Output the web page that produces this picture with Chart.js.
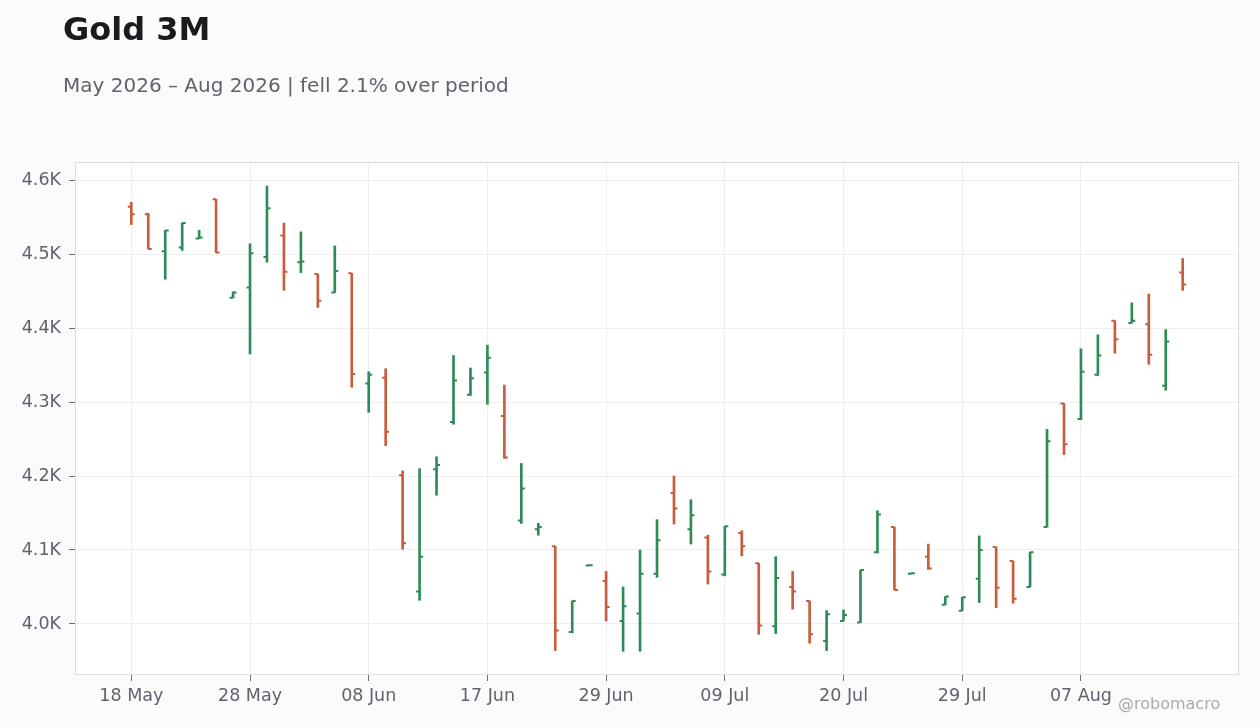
<!DOCTYPE html>
<html>
<head>
<meta charset="utf-8">
<script src="https://cdn.jsdelivr.net/npm/chart.js@4.4.1/dist/chart.umd.min.js"></script>
<style>
  html, body { margin: 0; padding: 0; background: #fbfbfb; }
  body { width: 1260px; height: 728px; position: relative; overflow: hidden; font-family: "DejaVu Sans", sans-serif; }
  #title { position: absolute; left: 63px; top: 13px; font-size: 32px; line-height: 1; font-weight: bold; color: #1b1b1f; white-space: nowrap; }
  #subtitle { position: absolute; left: 63px; top: 75px; font-size: 20px; line-height: 1; color: #5f6370; white-space: nowrap; }
  #mark { position: absolute; left: 1118px; top: 696px; font-size: 16px; line-height: 1; color: #ababab; white-space: nowrap; }
  #wrap { position: absolute; left: 0; top: 0; width: 1260px; height: 728px; }
</style>
</head>
<body>
<div id="wrap"><canvas id="c" width="1260" height="728"></canvas></div>
<div id="title">Gold 3M</div>
<div id="subtitle">May 2026 – Aug 2026 | fell 2.1% over period</div>
<div id="mark">@robomacro</div>
<script>
// Trading days (categories)
const dates = [
  '2026-05-18','2026-05-19','2026-05-20','2026-05-21','2026-05-22','2026-05-26','2026-05-27','2026-05-28','2026-05-29',
  '2026-06-01','2026-06-02','2026-06-03','2026-06-04','2026-06-05','2026-06-08','2026-06-09','2026-06-10','2026-06-11',
  '2026-06-12','2026-06-15','2026-06-16','2026-06-17','2026-06-18','2026-06-22','2026-06-23','2026-06-24','2026-06-25',
  '2026-06-26','2026-06-29','2026-06-30','2026-07-01','2026-07-02','2026-07-06','2026-07-07','2026-07-08','2026-07-09',
  '2026-07-10','2026-07-13','2026-07-14','2026-07-15','2026-07-16','2026-07-17','2026-07-20','2026-07-21','2026-07-22',
  '2026-07-23','2026-07-24','2026-07-27','2026-07-28','2026-07-29','2026-07-30','2026-07-31','2026-08-03','2026-08-04',
  '2026-08-05','2026-08-06','2026-08-07','2026-08-10','2026-08-11','2026-08-12','2026-08-13','2026-08-14','2026-08-17'
];
const openVals = [
  4564,4554,4504,4509,4521,4574,4441,4455,4496,4525,4489,4473,4448,4474,4325,4333,4201,4044,4209,4273,4310,4340,4281,
  4140,4128,4105,3989,4079,4058,4004,4014,4068,4177,4128,4117,4067,4123,4082,3997,4050,4031,3977,4004,4002,4097,4131,
  4068,4091,4026,4018,4061,4104,4085,4050,4131,4298,4277,4337,4410,4407,4405,4322,4475
];
const highVals = [
  4570,4555,4532,4542,4532,4574,4449,4514,4592,4542,4530,4473,4511,4474,4341,4345,4207,4210,4226,4363,4346,4377,4323,
  4217,4136,4105,4031,4080,4071,4050,4100,4141,4200,4168,4120,4132,4126,4082,4091,4071,4031,4018,4019,4073,4153,4131,
  4069,4108,4037,4036,4119,4104,4085,4097,4263,4298,4372,4391,4410,4434,4446,4398,4494
];
const lowVals = [
  4540,4507,4466,4505,4521,4502,4441,4365,4489,4451,4475,4428,4448,4320,4286,4241,4101,4032,4174,4270,4309,4297,4224,
  4136,4120,3964,3988,4079,4004,3963,3963,4063,4135,4108,4054,4065,4092,3986,3987,4020,3974,3964,4004,4002,4096,4046,
  4068,4074,4026,4018,4029,4022,4028,4050,4131,4229,4276,4336,4366,4407,4351,4316,4451
];
const closeVals = [
  4554,4507,4532,4542,4522.5,4502,4448,4501,4562,4476,4490,4437,4477,4338,4337,4260,4109,4091,4215,4329,4332,4360,4225,
  4183,4131,3991,4031,4079.5,4023,4024,4068,4113,4156,4147,4071,4132,4105,3998,4062,4044,3986,4013,4012,4073,4148,4046,
  4068.5,4075,4037,4036,4100,4049,4034,4097,4247,4243,4341,4363,4385,4410,4364,4382,4459
];
const tickIndex = [0, 7, 14, 21, 28, 35, 42, 49, 56];
const tickLabels = ['18 May','28 May','08 Jun','17 Jun','29 Jun','09 Jul','20 Jul','29 Jul','07 Aug'];
const yTicks = [4000, 4100, 4200, 4300, 4400, 4500, 4600];
const yMin = 3931, yMax = 4624.5;
const xMin = -3.32, xMax = 65.32;

const UP = '#2e8b57';
const DOWN = '#c85c3c';
const colors = openVals.map((o, i) => closeVals[i] >= o ? UP : DOWN);
const rangeData = dates.map((d, i) => ({ x: i, y: [lowVals[i], highVals[i]] }));

const plotBg = {
  id: 'plotBg',
  beforeDraw(chart) {
    const { ctx, chartArea: a } = chart;
    ctx.save();
    ctx.fillStyle = '#ffffff';
    ctx.fillRect(a.left, a.top, a.right - a.left, a.bottom - a.top);
    ctx.restore();
  },
  afterDatasetsDraw(chart) {
    const { ctx, chartArea: a } = chart;
    const xs = chart.scales.x, ys = chart.scales.y;
    ctx.save();
    ctx.lineWidth = 2;
    ctx.lineCap = 'butt';
    for (let i = 0; i < dates.length; i++) {
      const x = xs.getPixelForValue(i);
      const yo = ys.getPixelForValue(openVals[i]);
      const yc = ys.getPixelForValue(closeVals[i]);
      ctx.strokeStyle = colors[i];
      ctx.beginPath();
      ctx.moveTo(x - 3.5, yo); ctx.lineTo(x, yo);
      ctx.moveTo(x, yc); ctx.lineTo(x + 3.5, yc);
      ctx.stroke();
    }
    ctx.strokeStyle = '#dcdcdc';
    ctx.lineWidth = 1;
    ctx.strokeRect(a.left + 0.5, a.top + 0.5, a.right - a.left - 1, a.bottom - a.top - 1);
    ctx.restore();
  }
};

new Chart(document.getElementById('c'), {
  type: 'bar',
  data: {
    datasets: [{
      data: rangeData,
      backgroundColor: colors,
      borderWidth: 0,
      borderSkipped: false,
      barThickness: 2
    }]
  },
  options: {
    responsive: false,
    animation: false,
    devicePixelRatio: 1,
    layout: { padding: { top: 162, right: 21, left: 0, bottom: 0 } },
    plugins: { legend: { display: false }, tooltip: { enabled: false }, title: { display: false } },
    scales: {
      x: {
        type: 'linear',
        bounds: 'data',
        min: xMin,
        max: xMax,
        offset: false,
        afterBuildTicks(scale) { scale.min = xMin; scale.max = xMax; scale.ticks = tickIndex.map(v => ({ value: v })); },
        afterFit(scale) { scale.height = 53; },
        ticks: {
          autoSkip: false,
          maxRotation: 0,
          padding: 5,
          color: '#5f6370',
          font: { family: 'DejaVu Sans', size: 17.5 },
          callback(v) { const k = tickIndex.indexOf(v); return k >= 0 ? tickLabels[k] : ''; }
        },
        grid: { offset: false, color: '#efefef', lineWidth: 1, drawTicks: true, tickLength: 6, tickColor: '#6b6e78' },
        border: { display: false }
      },
      y: {
        type: 'linear',
        bounds: 'data',
        min: yMin,
        max: yMax,
        afterBuildTicks(scale) { scale.min = yMin; scale.max = yMax; scale.ticks = yTicks.map(v => ({ value: v })); },
        afterFit(scale) { scale.width = 75; },
        ticks: {
          padding: 8,
          color: '#5f6370',
          font: { family: 'DejaVu Sans', size: 17.5 },
          callback(v) { return (v / 1000).toFixed(1) + 'K'; }
        },
        grid: { color: '#efefef', lineWidth: 1, drawTicks: true, tickLength: 6, tickColor: '#6b6e78' },
        border: { display: false }
      }
    }
  },
  plugins: [plotBg]
});
</script>
</body>
</html>
